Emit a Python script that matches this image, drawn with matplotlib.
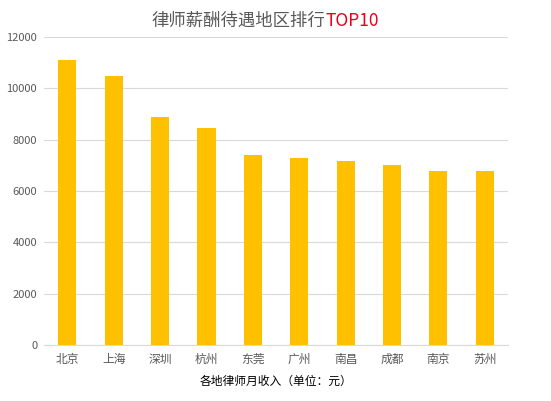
import matplotlib
matplotlib.use("Agg")
import matplotlib.pyplot as plt

plt.rcParams["font.family"] = ["Noto Sans CJK SC", "DejaVu Sans"]

cities = ["北京", "上海", "深圳", "杭州", "东莞", "广州", "南昌", "成都", "南京", "苏州"]
salary = [11100, 10480, 8880, 8460, 7400, 7290, 7170, 7010, 6780, 6780]
yticks = [0, 2000, 4000, 6000, 8000, 10000, 12000]

fig = plt.figure(figsize=(5.51, 4.01), dpi=100)
ax = fig.add_axes([0.08, 0.14, 0.842, 0.768])

ax.bar(range(len(cities)), salary, width=0.39, color="#ffc000", zorder=3)

ax.set_xlim(-0.5, len(cities) - 0.5)
ax.set_ylim(0, 12000)
ax.set_yticks(yticks)
ax.set_xticks(range(len(cities)))
ax.set_xticklabels(cities)
ax.tick_params(axis="both", length=0, colors="#595959")
ax.tick_params(axis="x", pad=6, labelsize=8.5)
ax.tick_params(axis="y", pad=5, labelsize=8)
ax.grid(axis="y", color="#d9d9d9", linewidth=0.8, zorder=0)
for side in ["top", "right", "left"]:
    ax.spines[side].set_visible(False)
ax.spines["bottom"].set_color("#d9d9d9")

ax.set_xlabel("各地律师月收入（单位：元）", fontsize=8.5, color="black", labelpad=6)

fig.text(0.59, 0.948, "律师薪酬待遇地区排行", ha="right", va="center",
         fontsize=12.5, color="#595959")
fig.text(0.59, 0.948, "TOP10", ha="left", va="center",
         fontsize=12.5, color="#e8001c")

fig.savefig("out.png", dpi=100)
